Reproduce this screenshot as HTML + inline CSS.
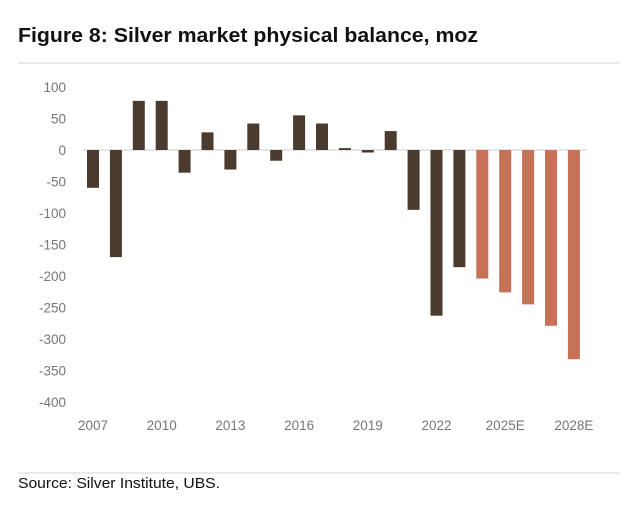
<!DOCTYPE html>
<html><head><meta charset="utf-8"><style>
body{margin:0;background:#fff;width:640px;height:522px;overflow:hidden;font-family:"Liberation Sans",sans-serif}
</style></head><body>
<svg width="640" height="522" xmlns="http://www.w3.org/2000/svg">
<text x="18" y="42" font-size="20.5" font-weight="bold" fill="#111" font-family="Liberation Sans, sans-serif" textLength="460" lengthAdjust="spacingAndGlyphs">Figure 8: Silver market physical balance, moz</text>
<line x1="18" y1="63" x2="620" y2="63" stroke="#e2e2e2" stroke-width="1.5"/>
<g id="plot"></g>
<line x1="18" y1="473" x2="620" y2="473" stroke="#e2e2e2" stroke-width="1.5"/>
<text x="18" y="488" font-size="15" fill="#111" font-family="Liberation Sans, sans-serif" textLength="202" lengthAdjust="spacingAndGlyphs">Source: Silver Institute, UBS.</text>
</svg>
<script>
const categories=["2007","2008","2009","2010","2011","2012","2013","2014","2015","2016","2017","2018","2019","2020","2021","2022","2023","2024E","2025E","2026E","2027E","2028E"];
const values=[-60,-170,78,78,-36,28,-31,42,-17,55,42,3,-4,30,-95,-263,-186,-204,-226,-245,-279,-332];
const forecast=[0,0,0,0,0,0,0,0,0,0,0,0,0,0,0,0,0,1,1,1,1,1];
const yTicks=[100,50,0,-50,-100,-150,-200,-250,-300,-350,-400];
const xLabels=["2007","2010","2013","2016","2019","2022","2025E","2028E"];
const NS="http://www.w3.org/2000/svg";
const g=document.getElementById('plot');
const y=v=>150-v*0.63;
const x=i=>93+i*22.9;
function mk(t,a){const e=document.createElementNS(NS,t);for(const k in a)e.setAttribute(k,a[k]);g.appendChild(e);return e;}
yTicks.forEach(v=>{
 const t=mk('text',{x:66,y:y(v)+5,'text-anchor':'end','font-size':13.5,fill:'#777'});
 t.textContent=v;
 
 
});
const ax=mk('line',{x1:83,x2:587,y1:y(0),y2:y(0),stroke:'#d8d8d8','stroke-width':1.2});


values.forEach((v,i)=>{
 const top=Math.min(y(v),y(0)),h=Math.max(Math.abs(y(v)-y(0)),1.2);
 const r=mk('rect',{x:x(i)-6,y:top,width:12,height:h,fill:forecast[i]?'#c67257':'#4b3a2e'});
 
 
});
xLabels.forEach(l=>{
 const i=categories.indexOf(l);
 const t=mk('text',{x:x(i),y:430,'text-anchor':'middle','font-size':13.5,fill:'#777'});
 t.textContent=l;
 
 
});
</script>
</body></html>
